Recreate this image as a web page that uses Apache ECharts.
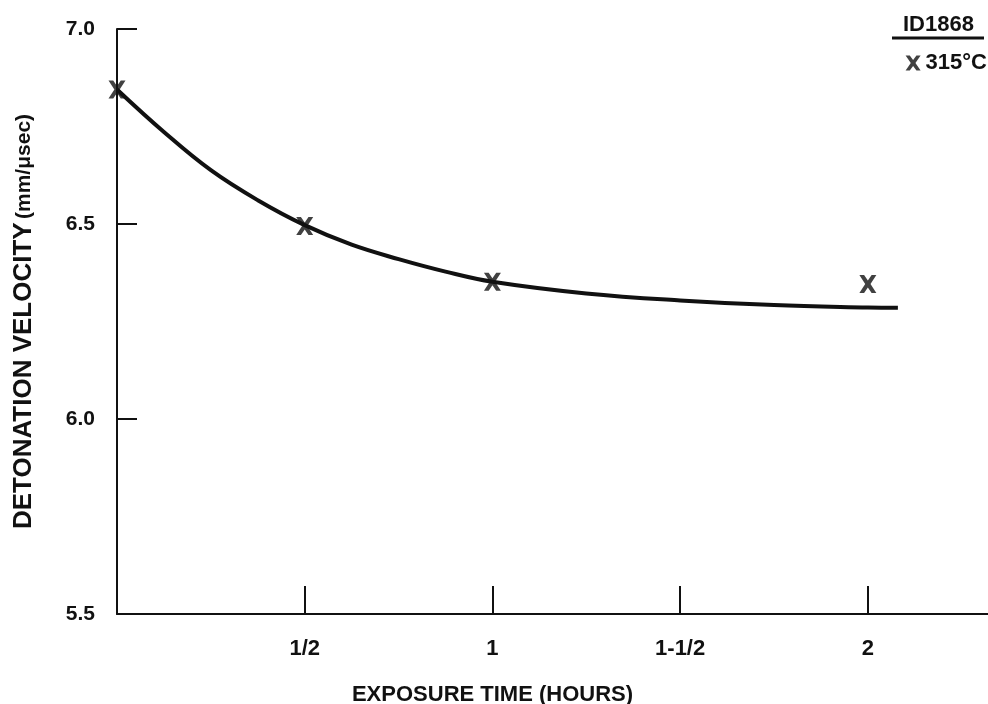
<!DOCTYPE html>
<html>
<head>
<meta charset="utf-8">
<title>Detonation velocity vs exposure time</title>
<script src="https://cdn.jsdelivr.net/npm/echarts@6/dist/echarts.min.js"></script>
<style>
    html, body { margin: 0; padding: 0; background: #fff; }
    #chart { width: 988px; height: 704px; }
</style>
</head>
<body>
<div id="chart"></div>
<script>
// measured points (X markers)
const hours = [0, 0.5, 1, 2];
const velocity = [6.845, 6.495, 6.352, 6.346];

// hand-drawn fitted curve
const fitHours = [0, 0.125, 0.25, 0.375, 0.5, 0.625, 0.75, 0.875, 1.0, 1.25, 1.5, 1.75, 2.0, 2.08];
const fitVelocity = [6.845, 6.736, 6.638, 6.561, 6.497, 6.447, 6.41, 6.378, 6.352, 6.322, 6.304, 6.292, 6.286, 6.285];

// tick values and labels
const xTicks = [0.5, 1, 1.5, 2];
const xTickLabels = ['1/2', '1', '1-1/2', '2'];
const yTicks = [5.5, 6.0, 6.5, 7.0];

const seriesName = '315°C';
// bold "X" shaped marker
const crossIcon = 'path://M0,0 L5,0 L9,5.5 L13,0 L18,0 L11.8,9 L18,18 L13,18 L9,12.5 L5,18 L0,18 L6.2,9 Z';

const chart = echarts.init(document.getElementById('chart'));

const wide = "'Liberation Sans', Arial, Helvetica, sans-serif";
const narrow = "'Liberation Sans Narrow', 'Arial Narrow', 'Liberation Sans', sans-serif";

const option = {
    animation: false,
    backgroundColor: '#fff',
    grid: { left: 117, top: 29, right: 0, bottom: 90, outerBoundsMode: 'none', containLabel: false },
    legend: {
        data: [{ name: seriesName, icon: crossIcon, itemStyle: { color: '#111' } }],
        right: -4,
        top: 47,
        itemWidth: 15,
        itemHeight: 20,
        itemGap: 5,
        textStyle: { color: '#111', fontFamily: wide, fontWeight: 'bold', fontSize: 22 }
    },
    graphic: [
        {
            type: 'text',
            left: 903,
            top: 14,
            style: { text: 'ID1868', fill: '#111', font: "bold 22px " + wide }
        },
        {
            type: 'line',
            shape: { x1: 892, y1: 38, x2: 984, y2: 38 },
            style: { stroke: '#111', lineWidth: 3 }
        }
    ],
    xAxis: {
        type: 'value',
        min: 0,
        max: 2.32,
        interval: 0.5,
        name: 'EXPOSURE TIME (HOURS)',
        nameLocation: 'middle',
        nameGap: 70,
        nameTextStyle: { color: '#111', fontFamily: narrow, fontWeight: 'bold', fontSize: 22, padding: [0, 120, 0, 0] },
        axisLine: { lineStyle: { color: '#111', width: 2 } },
        axisTick: {
            show: true,
            inside: true,
            length: 28,
            customValues: xTicks,
            lineStyle: { color: '#111', width: 2 }
        },
        axisLabel: {
            customValues: xTicks,
            margin: 24,
            color: '#111',
            fontFamily: narrow,
            fontWeight: 'bold',
            fontSize: 22,
            formatter: function (v) {
                const i = xTicks.indexOf(v);
                return i >= 0 ? xTickLabels[i] : '';
            }
        },
        splitLine: { show: false }
    },
    yAxis: {
        type: 'value',
        min: 5.5,
        max: 7.0,
        interval: 0.5,
        name: '{main|DETONATION VELOCITY} {unit|(mm/μsec)}',
        nameLocation: 'middle',
        nameGap: 80,
        nameTextStyle: {
            rich: {
                main: { color: '#111', fontFamily: wide, fontWeight: 'bold', fontSize: 26 },
                unit: { color: '#111', fontFamily: wide, fontWeight: 'bold', fontSize: 21 }
            }
        },
        axisLine: { show: true, lineStyle: { color: '#111', width: 2 } },
        axisTick: {
            show: true,
            inside: true,
            length: 20,
            customValues: yTicks,
            lineStyle: { color: '#111', width: 2 }
        },
        axisLabel: {
            customValues: yTicks,
            margin: 22,
            color: '#111',
            fontFamily: wide,
            fontWeight: 'bold',
            fontSize: 21,
            formatter: function (v) { return v.toFixed(1); }
        },
        splitLine: { show: false }
    },
    series: [
        {
            name: 'fit',
            type: 'line',
            data: fitHours.map((h, i) => [h, fitVelocity[i]]),
            smooth: 0.4,
            showSymbol: false,
            lineStyle: { color: '#111', width: 4 },
            z: 2
        },
        {
            name: seriesName,
            type: 'scatter',
            data: hours.map((h, i) => [h, velocity[i]]),
            symbol: crossIcon,
            symbolSize: [17, 18],
            itemStyle: { color: '#111' },
            z: 3
        }
    ]
};

chart.setOption(option);

window.addEventListener('resize', function () {
    chart.resize();
});
</script>
</body>
</html>
